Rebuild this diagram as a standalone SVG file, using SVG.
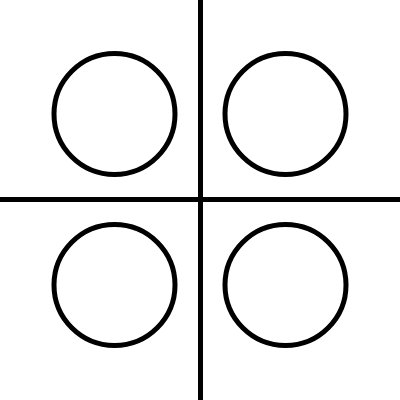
<svg xmlns="http://www.w3.org/2000/svg" width="400" height="400" viewBox="0 0 400 400">
<style>
.c{fill:none;stroke:#000;stroke-width:5}
.l{stroke:#000;stroke-width:5}
</style>
<rect width="400" height="400" fill="#fff"/>
<g id="connectors">
<line class="l" x1="200.5" y1="0" x2="200.5" y2="400"/>
<line class="l" x1="0" y1="199.5" x2="400" y2="199.5"/>
</g>
<g id="c1"><circle class="c" cx="114.5" cy="114" r="60.5"/></g>
<g id="c2"><circle class="c" cx="285.5" cy="114" r="60.5"/></g>
<g id="c3"><circle class="c" cx="114.5" cy="285" r="60.5"/></g>
<g id="c4"><circle class="c" cx="285.5" cy="285" r="60.5"/></g>
</svg>
